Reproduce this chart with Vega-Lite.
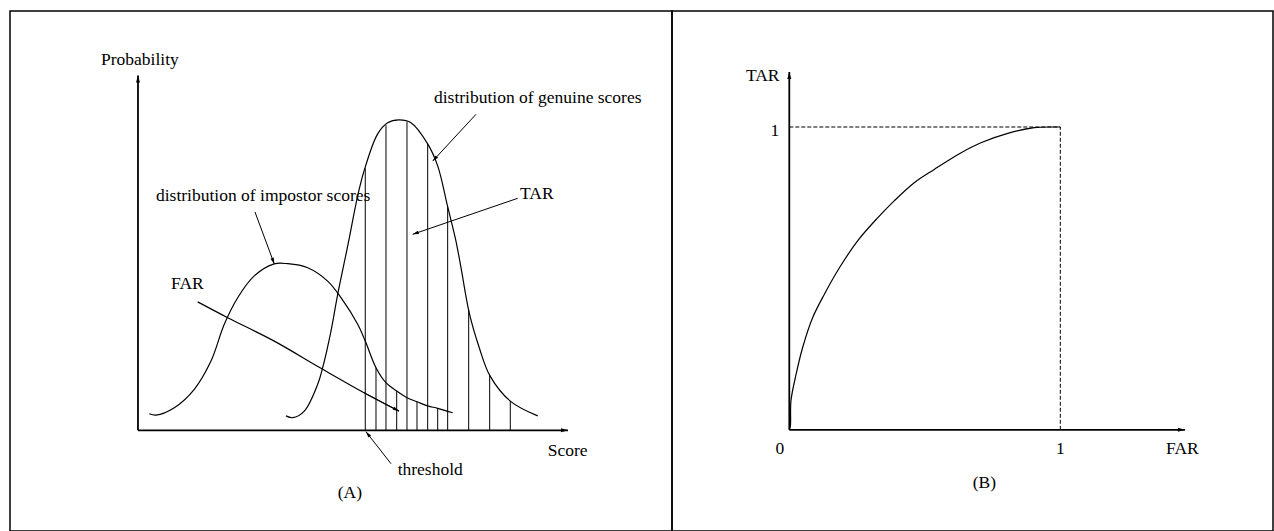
{
  "$schema": "https://vega.github.io/schema/vega-lite/v6.json",
  "padding": {"left": 9, "top": 10, "right": 0, "bottom": 0},
  "background": "white",
  "spacing": 0,
  "bounds": "flush",
  "config": {"view": {"stroke": "black", "strokeWidth": 1.5}, "font": "Liberation Serif"},
  "datasets": {
    "genuine": [
      {"x": 3.353, "y": 0.036}, {"x": 3.505, "y": 0.0315}, {"x": 3.768, "y": 0.048},
      {"x": 4.072, "y": 0.115}, {"x": 4.185, "y": 0.1565}, {"x": 4.373, "y": 0.248},
      {"x": 4.525, "y": 0.34}, {"x": 4.752, "y": 0.461}, {"x": 4.978, "y": 0.586},
      {"x": 5.121, "y": 0.648}, {"x": 5.431, "y": 0.741}, {"x": 5.658, "y": 0.769},
      {"x": 5.914, "y": 0.776}, {"x": 6.186, "y": 0.769}, {"x": 6.564, "y": 0.716},
      {"x": 6.791, "y": 0.661}, {"x": 7.017, "y": 0.559}, {"x": 7.205, "y": 0.473},
      {"x": 7.319, "y": 0.4065}, {"x": 7.507, "y": 0.293}, {"x": 7.733, "y": 0.2065},
      {"x": 7.976, "y": 0.136}, {"x": 8.436, "y": 0.073}, {"x": 9.057, "y": 0.036}
    ],
    "impostor": [
      {"x": 0.256, "y": 0.0415}, {"x": 0.408, "y": 0.038}, {"x": 0.823, "y": 0.0565},
      {"x": 1.276, "y": 0.1025}, {"x": 1.654, "y": 0.173}, {"x": 1.955, "y": 0.265},
      {"x": 2.259, "y": 0.3315}, {"x": 2.635, "y": 0.386}, {"x": 3.088, "y": 0.416},
      {"x": 3.392, "y": 0.4165}, {"x": 3.845, "y": 0.4065}, {"x": 4.298, "y": 0.373},
      {"x": 4.6, "y": 0.3315}, {"x": 4.978, "y": 0.265}, {"x": 5.15, "y": 0.223},
      {"x": 5.393, "y": 0.1565}, {"x": 5.619, "y": 0.119}, {"x": 5.862, "y": 0.098},
      {"x": 6.095, "y": 0.0815}, {"x": 6.322, "y": 0.0715}, {"x": 6.564, "y": 0.061},
      {"x": 6.791, "y": 0.055}, {"x": 7.131, "y": 0.044}
    ],
    "farLine": [
      {"x": 1.353, "y": 0.321}, {"x": 2.033, "y": 0.2815}, {"x": 3.088, "y": 0.223},
      {"x": 4.147, "y": 0.155}, {"x": 5.121, "y": 0.094}, {"x": 5.914, "y": 0.048}
    ],
    "hatch": [
      {"x": 5.15, "y": 0, "y2": 0.655}, {"x": 5.393, "y": 0, "y2": 0.1565},
      {"x": 5.619, "y": 0, "y2": 0.763}, {"x": 5.862, "y": 0, "y2": 0.098},
      {"x": 6.095, "y": 0, "y2": 0.771}, {"x": 6.322, "y": 0, "y2": 0.0715},
      {"x": 6.564, "y": 0, "y2": 0.716}, {"x": 6.791, "y": 0, "y2": 0.055},
      {"x": 7.017, "y": 0, "y2": 0.559}, {"x": 7.493, "y": 0, "y2": 0.3},
      {"x": 7.969, "y": 0, "y2": 0.138}, {"x": 8.436, "y": 0, "y2": 0.073}
    ],
    "axesA": [
      {"x": 0, "y": 0.887, "x2": 0, "y2": 0, "angle": 0},
      {"x": 9.743, "y": 0, "x2": 0, "y2": 0, "angle": 90}
    ],
    "arrowsA": [
      {"x": 3.088, "y": 0.416, "x2": 2.651, "y2": 0.5458, "angle": 159.6},
      {"x": 6.678, "y": 0.673, "x2": 7.659, "y2": 0.79, "angle": 222.8},
      {"x": 6.224, "y": 0.49, "x2": 8.604, "y2": 0.58, "angle": 251.1},
      {"x": 5.914, "y": 0.048, "x2": 5.121, "y2": 0.094, "angle": 117.6},
      {"x": 5.166, "y": -0.0035, "x2": 5.733, "y2": -0.0835, "angle": 322}
    ],
    "labelsA": [
      {"text": "Probability", "x": -0.838, "y": 0.926},
      {"text": "distribution of genuine scores", "x": 6.707, "y": 0.831},
      {"text": "distribution of impostor scores", "x": 0.408, "y": 0.586},
      {"text": "TAR", "x": 8.656, "y": 0.592},
      {"text": "FAR", "x": 0.748, "y": 0.3665},
      {"text": "Score", "x": 9.283, "y": -0.052},
      {"text": "threshold", "x": 5.884, "y": -0.1},
      {"text": "(A)", "x": 4.525, "y": -0.156}
    ],
    "roc": [
      {"x": 0, "y": 0}, {"x": 0.004, "y": 0.013}, {"x": 0.006, "y": 0.095},
      {"x": 0.025, "y": 0.183}, {"x": 0.049, "y": 0.271}, {"x": 0.086, "y": 0.37},
      {"x": 0.129, "y": 0.447}, {"x": 0.185, "y": 0.535}, {"x": 0.252, "y": 0.624},
      {"x": 0.326, "y": 0.7}, {"x": 0.387, "y": 0.756}, {"x": 0.461, "y": 0.816},
      {"x": 0.535, "y": 0.86}, {"x": 0.634, "y": 0.915}, {"x": 0.707, "y": 0.948},
      {"x": 0.806, "y": 0.979}, {"x": 0.904, "y": 0.998}, {"x": 0.978, "y": 1.0},
      {"x": 1.0, "y": 1.0}
    ],
    "axesB": [
      {"x": 0, "y": 1.1816, "x2": 0, "y2": 0, "angle": 0},
      {"x": 1.46, "y": 0, "x2": 0, "y2": 0, "angle": 90}
    ],
    "dashB": [
      {"x": 0, "y": 1, "x2": 1, "y2": 1},
      {"x": 1, "y": 0, "x2": 1, "y2": 1}
    ],
    "labelsB": [
      {"text": "TAR", "x": -0.16, "y": 1.17},
      {"text": "FAR", "x": 1.39, "y": -0.0634},
      {"text": "(B)", "x": 0.677, "y": -0.175}
    ],
    "ticksB": [
      {"text": "1", "x": -0.053, "y": 0.987},
      {"text": "0", "x": -0.035, "y": -0.0634},
      {"text": "1", "x": 1.0, "y": -0.0634}
    ]
  },
  "hconcat": [
    {
      "width": 662,
      "height": 520,
      "encoding": {
        "x": {"field": "x", "type": "quantitative", "scale": {"domain": [-2.9, 12.1], "nice": false, "zero": false}, "axis": null},
        "y": {"field": "y", "type": "quantitative", "scale": {"domain": [-0.25175, 1.04825], "nice": false, "zero": false}, "axis": null}
      },
      "layer": [
        {"data": {"name": "genuine"}, "mark": {"type": "line", "color": "black", "strokeWidth": 1.2, "interpolate": "catmull-rom"}},
        {"data": {"name": "impostor"}, "mark": {"type": "line", "color": "black", "strokeWidth": 1.2, "interpolate": "catmull-rom"}},
        {"data": {"name": "farLine"}, "mark": {"type": "line", "color": "black", "strokeWidth": 1.2, "interpolate": "catmull-rom"}},
        {"data": {"name": "hatch"}, "mark": {"type": "rule", "color": "black", "strokeWidth": 1}, "encoding": {"y2": {"field": "y2"}}},
        {"data": {"name": "axesA"}, "mark": {"type": "rule", "color": "black", "strokeWidth": 1.8}, "encoding": {"x2": {"field": "x2"}, "y2": {"field": "y2"}}},
        {"data": {"name": "arrowsA"}, "mark": {"type": "rule", "color": "black", "strokeWidth": 1}, "encoding": {"x2": {"field": "x2"}, "y2": {"field": "y2"}}},
        {"data": {"name": "axesA"}, "mark": {"type": "point", "filled": true, "color": "black", "opacity": 1, "size": 64, "shape": "M0,0L0.5,1.75L-0.5,1.75Z"}, "encoding": {"angle": {"field": "angle", "type": "quantitative", "scale": null}}},
        {"data": {"name": "arrowsA"}, "mark": {"type": "point", "filled": true, "color": "black", "opacity": 1, "size": 49, "shape": "M0,0L0.5,1.75L-0.5,1.75Z"}, "encoding": {"angle": {"field": "angle", "type": "quantitative", "scale": null}}},
        {"data": {"name": "labelsA"}, "mark": {"type": "text", "align": "left", "baseline": "middle", "fontSize": 17.5, "font": "Liberation Serif", "color": "black"}, "encoding": {"text": {"field": "text"}}}
      ]
    },
    {
      "width": 601,
      "height": 520,
      "encoding": {
        "x": {"field": "x", "type": "quantitative", "scale": {"domain": [-0.43284, 1.78487], "nice": false, "zero": false}, "axis": null},
        "y": {"field": "y", "type": "quantitative", "scale": {"domain": [-0.33421, 1.38309], "nice": false, "zero": false}, "axis": null}
      },
      "layer": [
        {"data": {"name": "dashB"}, "mark": {"type": "rule", "color": "black", "strokeWidth": 1, "strokeDash": [4, 2]}, "encoding": {"x2": {"field": "x2"}, "y2": {"field": "y2"}}},
        {"data": {"name": "roc"}, "mark": {"type": "line", "color": "black", "strokeWidth": 1.2, "interpolate": "catmull-rom"}},
        {"data": {"name": "axesB"}, "mark": {"type": "rule", "color": "black", "strokeWidth": 1.8}, "encoding": {"x2": {"field": "x2"}, "y2": {"field": "y2"}}},
        {"data": {"name": "axesB"}, "mark": {"type": "point", "filled": true, "color": "black", "opacity": 1, "size": 64, "shape": "M0,0L0.5,1.75L-0.5,1.75Z"}, "encoding": {"angle": {"field": "angle", "type": "quantitative", "scale": null}}},
        {"data": {"name": "labelsB"}, "mark": {"type": "text", "align": "left", "baseline": "middle", "fontSize": 17.5, "font": "Liberation Serif", "color": "black"}, "encoding": {"text": {"field": "text"}}},
        {"data": {"name": "ticksB"}, "mark": {"type": "text", "align": "center", "baseline": "middle", "fontSize": 17.5, "font": "Liberation Serif", "color": "black"}, "encoding": {"text": {"field": "text"}}}
      ]
    }
  ],
  "resolve": {"scale": {"x": "independent", "y": "independent"}}
}
